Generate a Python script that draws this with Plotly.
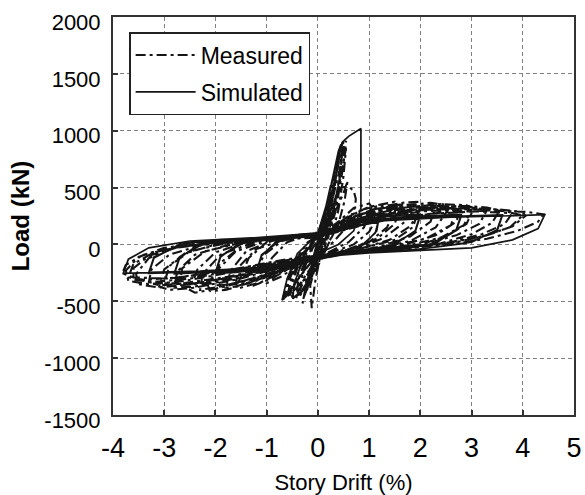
import plotly.graph_objects as go

# Cyclic load-drift response of the wall: (story drift %, load kN) vertices.
# Measured response, cycles before the load drop
measured_pre = [
    (0, 0), (0.1, 150), (0.15, 230), (0.1, 100), (0.02, -30), (-0.08, -150), (-0.12, -220), (-0.05, -80), (0.02, 20),
    (0.12, 200), (0.22, 380), (0.28, 460), (0.2, 260), (0.08, 30), (-0.05, -140), (-0.18, -340), (-0.22, -420), (-0.12, -220), (0.02, 10),
    (0.15, 250), (0.3, 560), (0.4, 760), (0.32, 480), (0.18, 150), (0.02, -80), (-0.15, -360), (-0.12, -560), (-0.05, -320), (0.08, -30),
    (0.2, 280), (0.35, 620), (0.45, 860), (0.5, 920), (0.44, 640), (0.3, 270), (0.12, -40), (-0.1, -260), (-0.28, -470), (-0.3, -520), (-0.22, -330), (-0.05, -60), (0.1, 90),
    (0.25, 330), (0.42, 650), (0.52, 880), (0.55, 910), (0.5, 700), (0.38, 380), (0.2, 60), (0, -150), (-0.25, -380), (-0.42, -470), (-0.38, -300), (-0.2, -90), (0.05, 60),
    (0.3, 300), (0.45, 600), (0.55, 850), (0.5, 600), (0.4, 300), (0.25, 50), (0.05, -150), (-0.2, -350), (-0.35, -450), (-0.3, -250), (-0.1, -30), (0.1, 100),
    (0.2, 300), (0.38, 680), (0.48, 900), (0.45, 640), (0.32, 330), (0.15, 50), (-0.05, -160), (-0.3, -400), (-0.5, -480), (-0.45, -330), (-0.28, -120), (-0.05, 40),
    (0.25, 400), (0.4, 720), (0.47, 850), (0.42, 560), (0.3, 250), (0.1, -20), (-0.15, -250), (-0.4, -420), (-0.55, -470), (-0.48, -300), (-0.3, -100), (-0.05, 50),
    (0.2, 200), (0.35, 420), (0.42, 520), (0.35, 300), (0.2, 60), (0, -120), (-0.3, -330), (-0.55, -440), (-0.68, -480), (-0.6, -320), (-0.45, -150), (-0.2, 20), (0.05, 90),
    (0.25, 300), (0.45, 500), (0.6, 510), (0.7, 470), (0.74, 400), (0.73, 330), (0.55, 150), (0.3, 20), (0, -80), (-0.3, -250), (-0.55, -400), (-0.65, -460), (-0.55, -300), (-0.35, -100), (-0.1, 30), (0.1, 80),
    (0.3, 250), (0.5, 450), (0.58, 560), (0.52, 380), (0.4, 180), (0.2, 0), (-0.1, -180), (-0.4, -380), (-0.6, -450), (-0.5, -280), (-0.3, -80), (0, 60),
]

# Measured response, large-drift cycles
measured_post = [
    (0.4, 200), (0.7, 320), (1.0, 360), (1.05, 330), (0.9, 150), (0.6, 20), (0.2, -70), (-0.3, -150), (-0.7, -280), (-1.0, -340), (-1.05, -300), (-0.9, -120), (-0.6, 20), (-0.2, 80), (0.2, 110),
    (0.5, 220), (0.9, 310), (1.2, 340), (1.2, 280), (1.0, 110), (0.7, 0), (0.2, -80), (-0.4, -170), (-0.9, -300), (-1.25, -360), (-1.25, -280), (-1.05, -90), (-0.7, 30), (-0.2, 90), (0.2, 120),
    (0.6, 250), (1.0, 330), (1.5, 375), (1.55, 340), (1.35, 150), (1.0, 20), (0.5, -60), (0, -110), (-0.6, -220), (-1.1, -330), (-1.5, -380), (-1.55, -330), (-1.35, -120), (-1.0, 20), (-0.5, 80), (0, 100),
    (0.5, 200), (1.0, 290), (1.4, 330), (1.6, 325), (1.5, 180), (1.15, 50), (0.6, -40), (0, -100), (-0.7, -230), (-1.3, -330), (-1.6, -350), (-1.55, -200), (-1.2, -40), (-0.6, 50), (0, 85),
    (0.6, 230), (1.1, 310), (1.6, 350), (1.8, 345), (1.7, 200), (1.3, 60), (0.8, -30), (0.2, -90), (-0.5, -190), (-1.1, -300), (-1.6, -370), (-1.8, -380), (-1.7, -230), (-1.4, -60), (-0.9, 30), (-0.3, 80), (0.2, 105),
    (0.6, 220), (1.2, 330), (1.7, 370), (2.0, 375), (2.05, 340), (1.8, 160), (1.4, 40), (0.8, -40), (0.2, -90), (-0.5, -200), (-1.2, -320), (-1.8, -400), (-2.1, -410), (-2.15, -360), (-1.9, -160), (-1.5, -20), (-0.9, 50), (-0.3, 80), (0.2, 110),
    (0.7, 200), (1.3, 300), (1.8, 335), (2.0, 330), (1.85, 150), (1.5, 40), (0.9, -30), (0.3, -80), (-0.4, -170), (-1.1, -280), (-1.7, -350), (-2.0, -360), (-1.95, -220), (-1.6, -60), (-1.0, 30), (-0.4, 70), (0.2, 100),
    (0.7, 220), (1.4, 320), (2.0, 350), (2.3, 340), (2.2, 200), (1.8, 70), (1.2, -20), (0.5, -75), (-0.3, -150), (-1.2, -290), (-1.9, -370), (-2.3, -400), (-2.25, -260), (-1.9, -90), (-1.3, 10), (-0.6, 60), (0.1, 95),
    (0.8, 250), (1.5, 340), (2.2, 365), (2.5, 350), (2.55, 310), (2.3, 150), (1.8, 30), (1.2, -30), (0.5, -80), (-0.3, -160), (-1.2, -300), (-2.0, -390), (-2.4, -425), (-2.5, -400), (-2.35, -220), (-2.0, -70), (-1.4, 20), (-0.7, 60), (0, 90),
    (0.8, 210), (1.7, 300), (2.4, 330), (2.7, 315), (2.6, 170), (2.1, 50), (1.4, -20), (0.6, -65), (-0.3, -140), (-1.3, -260), (-2.2, -340), (-2.7, -360), (-2.65, -210), (-2.2, -60), (-1.5, 15), (-0.7, 55), (0.1, 90),
    (0.8, 220), (1.6, 310), (2.3, 340), (2.8, 330), (2.7, 200), (2.3, 80), (1.7, 0), (1.0, -45), (0.2, -90), (-0.7, -190), (-1.6, -300), (-2.4, -370), (-2.8, -380), (-2.75, -240), (-2.4, -90), (-1.8, -10), (-1.0, 40), (-0.2, 75), (0.3, 100),
    (0.8, 230), (1.6, 320), (2.4, 355), (2.9, 345), (3.05, 320), (2.9, 180), (2.5, 70), (2.0, 0), (1.2, -40), (0.4, -80), (-0.5, -170), (-1.5, -300), (-2.4, -380), (-2.9, -400), (-3.1, -370), (-3.0, -220), (-2.6, -80), (-2.0, 0), (-1.2, 40), (-0.4, 70), (0.2, 100),
    (0.9, 210), (1.8, 290), (2.5, 320), (3.0, 305), (2.85, 170), (2.4, 60), (1.8, -5), (1.0, -45), (0.2, -85), (-0.7, -180), (-1.7, -290), (-2.5, -350), (-3.0, -340), (-2.9, -190), (-2.5, -60), (-1.8, 10), (-1.0, 45), (-0.2, 75), (0.3, 100),
    (0.9, 220), (1.8, 300), (2.6, 330), (3.1, 320), (3.3, 300), (3.15, 180), (2.7, 80), (2.1, 5), (1.3, -35), (0.4, -75), (-0.6, -160), (-1.7, -280), (-2.6, -340), (-3.1, -360), (-3.3, -330), (-3.25, -220), (-2.9, -90), (-2.3, -10), (-1.5, 35), (-0.6, 65), (0.2, 90),
    (1.0, 240), (2.0, 320), (2.8, 340), (3.3, 325), (3.55, 300), (3.4, 190), (3.0, 90), (2.4, 10), (1.6, -30), (0.6, -70), (-0.4, -150), (-1.5, -270), (-2.5, -350), (-3.1, -380), (-3.5, -350), (-3.55, -260), (-3.3, -120), (-2.8, -30), (-2.0, 20), (-1.0, 50), (0, 80),
    (1.0, 210), (2.0, 290), (2.9, 310), (3.5, 300), (3.8, 280), (3.65, 180), (3.2, 90), (2.6, 20), (1.8, -25), (0.8, -60), (-0.3, -120), (-1.5, -220), (-2.5, -300), (-3.2, -330), (-3.6, -310), (-3.6, -210), (-3.3, -100), (-2.7, -20), (-1.9, 20), (-0.9, 50), (0.1, 75),
    (1.0, 220), (2.0, 300), (3.0, 320), (3.6, 305), (4.0, 285), (4.05, 250), (3.8, 160), (3.3, 80), (2.6, 10), (1.8, -30), (0.8, -60), (-0.3, -120), (-1.5, -230), (-2.6, -320), (-3.3, -350), (-3.7, -320), (-3.75, -230), (-3.5, -110), (-3.0, -30), (-2.2, 20), (-1.2, 50), (0, 80),
    (1.1, 200), (2.2, 270), (3.1, 290), (3.8, 275), (4.0, 255), (3.75, 150), (3.2, 70), (2.5, 10), (1.6, -30), (0.6, -60), (-0.5, -130), (-1.6, -220), (-2.7, -290), (-3.4, -310), (-3.7, -290), (-3.6, -170), (-3.2, -70), (-2.6, -10), (-1.8, 25), (-0.8, 50), (0.1, 75),
    (1.2, 210), (2.4, 280), (3.4, 300), (4.1, 285), (4.4, 265), (4.3, 200), (3.9, 120), (3.3, 50), (2.6, 0), (1.6, -40), (0.5, -70), (-0.6, -130), (-1.8, -230), (-2.9, -300), (-3.6, -290), (-3.82, -255), (-3.75, -180), (-3.4, -90), (-2.8, -30), (-2.0, 10), (-1.0, 40), (0, 60),
]

# Simulated response, cycles up to the peak and the sudden drop
simulated_pre = [
    (0, 0), (0.1, 200), (0.15, 300), (0.1, 180), (0, 0), (-0.1, -180), (-0.15, -280), (-0.1, -160), (0, 10),
    (0.15, 320), (0.25, 520), (0.2, 400), (0.05, 80), (-0.1, -200), (-0.25, -430), (-0.2, -320), (-0.05, -40),
    (0.15, 300), (0.3, 620), (0.4, 820), (0.45, 880), (0.4, 700), (0.25, 380), (0.05, 0), (-0.15, -280), (-0.35, -440), (-0.5, -470), (-0.45, -330), (-0.25, -80),
    (0, 100), (0.2, 400), (0.4, 780), (0.48, 900), (0.6, 950), (0.84, 1020), (0.84, 320),
    (0.7, 120), (0.4, 0), (0, -80), (-0.3, -250), (-0.6, -450), (-0.7, -490), (-0.6, -300), (-0.4, -80), (-0.1, 50), (0.2, 110),
]

# Simulated response, large-drift cycles
simulated_post = [
    (0.6, 200), (1.0, 250), (1.2, 260), (1.15, 120), (0.9, 0), (0.4, -80), (0, -110), (-0.5, -180), (-1.0, -240), (-1.2, -250), (-1.1, -100), (-0.8, 30), (-0.3, 80), (0.2, 110),
    (0.5, 170), (1.0, 230), (1.2, 240), (1.12, 100), (0.85, -10), (0.3, -85), (-0.4, -170), (-1.0, -230), (-1.2, -240), (-1.1, -90), (-0.75, 30), (-0.2, 80), (0.3, 110),
    (0.8, 210), (1.5, 255), (2.0, 265), (1.9, 120), (1.5, 0), (0.8, -70), (0, -110), (-0.8, -200), (-1.6, -245), (-2.0, -255), (-1.9, -110), (-1.5, 20), (-0.8, 70), (0, 100),
    (0.9, 200), (1.6, 240), (2.0, 250), (1.9, 110), (1.4, -10), (0.7, -70), (-0.1, -110), (-0.9, -200), (-1.7, -235), (-2.0, -245), (-1.9, -100), (-1.4, 25), (-0.7, 70), (0.1, 100),
    (1.0, 215), (2.0, 250), (2.8, 265), (2.7, 130), (2.3, 10), (1.5, -45), (0.5, -90), (-0.5, -170), (-1.5, -230), (-2.5, -255), (-2.8, -258), (-2.7, -120), (-2.3, 10), (-1.5, 50), (-0.5, 80), (0.3, 110),
    (1.1, 205), (2.1, 240), (2.8, 250), (2.7, 120), (2.2, 0), (1.4, -50), (0.4, -95), (-0.6, -170), (-1.6, -225), (-2.6, -245), (-2.8, -250), (-2.7, -110), (-2.2, 15), (-1.4, 50), (-0.4, 80), (0.4, 115),
    (1.2, 215), (2.5, 245), (3.6, 260), (3.5, 130), (3.0, 20), (2.0, -40), (1.0, -70), (0, -110), (-1.0, -200), (-2.2, -240), (-3.3, -255), (-3.2, -120), (-2.7, 0), (-2.0, 40), (-1.0, 65), (0, 90),
    (1.3, 210), (2.6, 240), (3.6, 250), (3.5, 120), (2.9, 10), (1.9, -45), (0.9, -75), (-0.1, -115), (-1.1, -200), (-2.3, -235), (-3.3, -245), (-3.2, -110), (-2.6, 10), (-1.9, 45), (-0.9, 65), (0.1, 90),
    (1.2, 210), (2.5, 240), (3.6, 250), (4.43, 262), (4.3, 140), (3.8, 40), (3.0, -30), (2.0, -55), (1.0, -75), (0, -110), (-1.0, -200), (-2.2, -235), (-3.2, -250), (-3.8, -255), (-3.7, -130), (-3.3, -30), (-2.5, 30), (-1.5, 55), (-0.5, 75), (0, 80),
]

x_ticks = [-4, -3, -2, -1, 0, 1, 2, 3, 4, 5]
y_ticks = [-1500, -1000, -500, 0, 500, 1000, 1500, 2000]

measured_drift, measured_load = zip(*(measured_pre + measured_post))
simulated_drift, simulated_load = zip(*(simulated_pre + simulated_post))

FONT = "Liberation Sans, Arial, sans-serif"

fig = go.Figure()
fig.add_trace(go.Scatter(
    x=measured_drift, y=measured_load, mode="lines", name="Measured",
    legendgroup="measured",
    line=dict(color="#151515", width=2.1, dash="10px,4px,3px,4px"),
))
fig.add_trace(go.Scatter(
    x=simulated_drift, y=simulated_load, mode="lines", name="Simulated",
    legendgroup="simulated",
    line=dict(color="#151515", width=1.7),
))

axis_common = dict(
    showgrid=True, gridcolor="#808080", gridwidth=1, griddash="4px,3px",
    showline=True, linecolor="#333333", linewidth=2, mirror=True,
    ticks="inside", ticklen=5, tickcolor="#333333", tickwidth=1.5,
    zeroline=False, automargin=False, ticklabeloverflow="allow",
)

fig.update_layout(
    width=585, height=495, autosize=False,
    margin=dict(l=113, r=11, t=17, b=80),
    paper_bgcolor="white", plot_bgcolor="white",
    font=dict(family=FONT, color="black"),
    showlegend=True,
    legend=dict(
        x=0.035, y=0.962, xanchor="left", yanchor="top",
        bgcolor="white", bordercolor="#222222", borderwidth=1.5,
        font=dict(size=23, family=FONT, color="black"),
        itemwidth=60, tracegroupgap=4,
    ),
    xaxis=dict(
        range=[-4, 5], tickmode="array", tickvals=x_ticks,
        ticktext=[str(v) for v in x_ticks],
        tickfont=dict(size=27, family=FONT, color="black"),
        ticklabelstandoff=8,
        title=dict(text="Story Drift (%)", font=dict(size=22, family=FONT, color="black"), standoff=14),
        **axis_common,
    ),
    yaxis=dict(
        range=[-1500, 2000], tickmode="array", tickvals=y_ticks,
        ticktext=[str(v) for v in y_ticks],
        tickfont=dict(size=22, family=FONT, color="black"),
        ticklabelstandoff=6, ticklabelshift=5,
        title=dict(text="<b>Load (kN)</b>", font=dict(size=24, family=FONT, color="black"), standoff=8),
        **axis_common,
    ),
)

fig.write_html("out.html")
